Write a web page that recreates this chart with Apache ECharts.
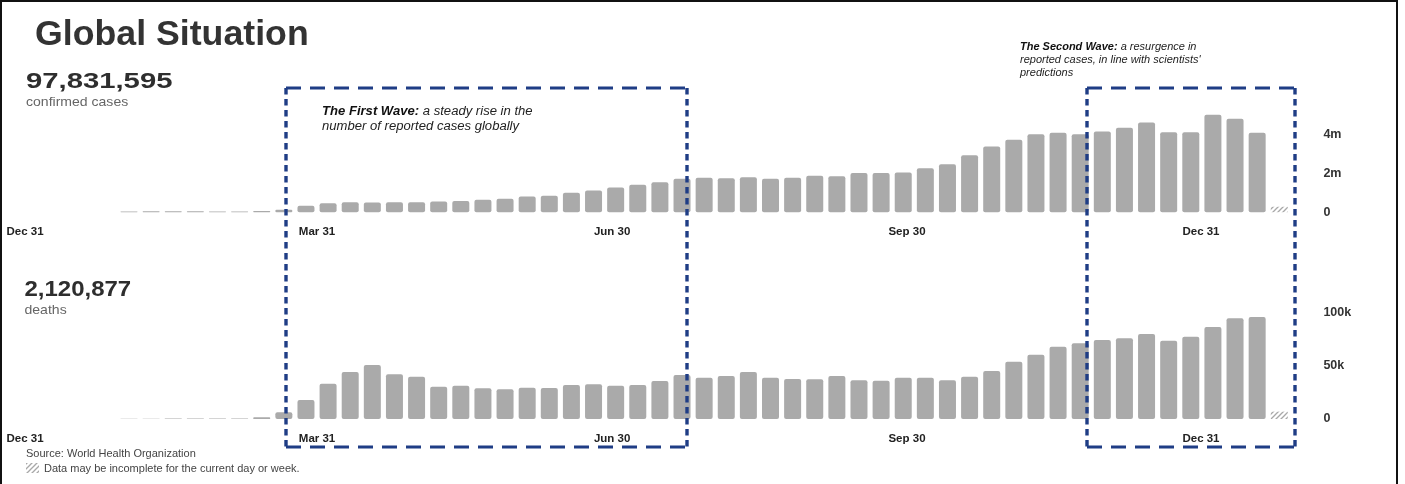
<!DOCTYPE html>
<html>
<head>
<meta charset="utf-8">
<style>
html,body{margin:0;padding:0;background:#fff;}
#c{width:1405px;height:484px;}
</style>
<script src="https://cdn.jsdelivr.net/npm/echarts@6/dist/echarts.min.js"></script>
</head>
<body>
<div id="c"></div>
<script>
// ---- data (weekly, index 0 = first reported week; last week incomplete) ----
const casesM = [0.04,0.05,0.05,0.05,0.04,0.04,0.06,0.12,
  0.33,0.46,0.51,0.50,0.51,0.51,0.55,0.57,0.64,0.69,0.81,0.84,1.00,1.12,1.27,1.41,1.54,1.72,
  1.77,1.75,1.80,1.72,1.77,1.87,1.85,2.01,2.02,2.04,2.26,2.47,2.93,3.38,3.72,4.01,4.08,4.01,
  4.15,4.34,4.61,4.11,4.11,5.01,4.80,4.08,0.28];
const deathsK = [0.3,0.3,0.4,0.4,0.4,0.5,1.6,6.3,
  17.8,33.1,44.1,50.7,41.9,39.7,30.3,31.3,28.8,27.8,29.4,29.1,31.9,32.5,31.3,31.9,35.6,41.3,
  38.8,40.3,44.1,38.8,37.5,37.2,40.3,36.3,35.9,38.8,38.8,36.3,39.7,45.0,53.8,60.3,67.8,71.0,
  74.1,75.7,79.7,73.5,77.2,86.3,94.5,95.7,6.9];
const tickPositions = [-4.7, 8.5, 21.84, 35.17, 48.46];   // in week-index units
const tickLabels = ['Dec 31','Mar 31','Jun 30','Sep 30','Dec 31'];
const casesAxis = {min:0, max:6, interval:2, unit:'m'};
const deathsAxis = {min:0, max:150, interval:50, unit:'k'};
const totalCases = '97,831,595';
const totalDeaths = '2,120,877';
const incompleteIndex = casesM.length - 1;

const FONT = '"Liberation Sans", Arial, Helvetica, sans-serif';
const BAR = '#aaaaaa';
const NAVY = '#1f3d85';

function hatchCanvas(){
  const c = document.createElement('canvas');
  c.width = 5; c.height = 5;
  const g = c.getContext('2d');
  g.strokeStyle = '#a8a8a8'; g.lineWidth = 1.3;
  g.beginPath();
  g.moveTo(0,5); g.lineTo(5,0);
  g.moveTo(-1,1); g.lineTo(1,-1);
  g.moveTo(4,6); g.lineTo(6,4);
  g.stroke();
  return c;
}
const hatch = {image: hatchCanvas(), repeat: 'repeat'};

function labelFor(v){
  let best = 0, d = Infinity;
  tickPositions.forEach((p,i)=>{ const dd = Math.abs(p-v); if(dd<d){d=dd;best=i;} });
  return tickLabels[best];
}

function xAxisCfg(gi){
  return {
    gridIndex: gi, type:'value', min:-5, max:53,
    axisLine:{show:false}, axisTick:{show:false}, splitLine:{show:false},
    axisLabel:{customValues: tickPositions, formatter: labelFor, margin:14,
      fontWeight:'bold', fontSize:11.5, color:'#222', fontFamily:FONT, hideOverlap:false}
  };
}
function yAxisCfg(gi, ax){
  return {
    gridIndex: gi, type:'value', position:'right', min:ax.min, max:ax.max, interval:ax.interval,
    axisLine:{show:false}, axisTick:{show:false}, splitLine:{show:false},
    axisLabel:{showMaxLabel:false, margin:22, fontWeight:'bold', fontSize:12.5, color:'#333', fontFamily:FONT,
      formatter: v => v === 0 ? '0' : v + ax.unit}
  };
}
function barData(arr){
  return arr.map((v,i)=> i === incompleteIndex
    ? {value:[i,v], itemStyle:{color:hatch, borderRadius:0}}
    : {value:[i,v]});
}

function hLine(x1,x2,y){ return {type:'line', shape:{x1:x1,y1:y,x2:x2,y2:y}, style:{stroke:NAVY, lineWidth:3, lineDash:[15,9]}, z:100}; }
function vLine(x,y1,y2){ return {type:'line', shape:{x1:x,y1:y1,x2:x,y2:y2}, style:{stroke:NAVY, lineWidth:3.4, lineDash:[6.5,4.5]}, z:100}; }

const chart = echarts.init(document.getElementById('c'), null, {renderer:'canvas'});
chart.setOption({
  animation:false,
  backgroundColor:'#fff',
  grid:[
    {left:18.4, right:103.6, top:95.5, height:116.7, outerBoundsMode:'none'},
    {left:18.4, right:103.6, top:259.1, height:159.9, outerBoundsMode:'none'}
  ],
  xAxis:[xAxisCfg(0), xAxisCfg(1)],
  yAxis:[yAxisCfg(0, casesAxis), yAxisCfg(1, deathsAxis)],
  series:[
    {type:'bar', xAxisIndex:0, yAxisIndex:0, barWidth:17, silent:true,
      itemStyle:{color:BAR, borderRadius:2}, data: barData(casesM)},
    {type:'bar', xAxisIndex:1, yAxisIndex:1, barWidth:17, silent:true,
      itemStyle:{color:BAR, borderRadius:2}, data: barData(deathsK)}
  ],
  graphic:[
    {type:'rect', shape:{x:1,y:1,width:1396,height:520}, style:{fill:'none', stroke:'#111', lineWidth:2}, z:200},
    {type:'text', x:35, y:35, scaleX:1.02, style:{text:'Global Situation', font:'bold 35px '+FONT, fill:'#333', verticalAlign:'middle', align:'left'}},
    {type:'text', x:26, y:81.5, scaleX:1.33, style:{text:totalCases, font:'bold 22px '+FONT, fill:'#2e2e2e', verticalAlign:'middle', align:'left'}},
    {type:'text', x:26, y:102, scaleX:1.08, style:{text:'confirmed cases', font:'13px '+FONT, fill:'#666', verticalAlign:'middle', align:'left'}},
    {type:'text', x:24.5, y:289.5, scaleX:1.09, style:{text:totalDeaths, font:'bold 22px '+FONT, fill:'#2e2e2e', verticalAlign:'middle', align:'left'}},
    {type:'text', x:24.5, y:310, scaleX:1.08, style:{text:'deaths', font:'13px '+FONT, fill:'#666', verticalAlign:'middle', align:'left'}},
    {type:'text', x:322, y:104, scaleX:1.09, style:{
      text:'{b|The First Wave:} a steady rise in the\nnumber of reported cases globally',
      fontSize:12, fontStyle:'italic', fontFamily:FONT, fill:'#222', lineHeight:15, verticalAlign:'top', align:'left',
      rich:{b:{fontWeight:'bold', fontStyle:'italic', fontSize:12, fontFamily:FONT, fill:'#111', lineHeight:15}}}},
    {type:'text', x:1020, y:40.5, scaleX:1.1, style:{
      text:'{b|The Second Wave:} a resurgence in\nreported cases, in line with scientists\'\npredictions',
      fontSize:10, fontStyle:'italic', fontFamily:FONT, fill:'#222', lineHeight:13, verticalAlign:'top', align:'left',
      rich:{b:{fontWeight:'bold', fontStyle:'italic', fontSize:10, fontFamily:FONT, fill:'#111', lineHeight:13}}}},
    hLine(286,688,88), hLine(286,688,447), vLine(286,88,447), vLine(687,88,447),
    hLine(1087,1296,88), hLine(1087,1296,447), vLine(1087,88,447), vLine(1295,88,447),
    {type:'text', x:26, y:454, style:{text:'Source: World Health Organization', font:'11px '+FONT, fill:'#444', verticalAlign:'middle', align:'left'}},
    {type:'rect', shape:{x:26,y:463,width:13,height:10}, style:{fill:hatch}},
    {type:'text', x:44, y:469, style:{text:'Data may be incomplete for the current day or week.', font:'11px '+FONT, fill:'#444', verticalAlign:'middle', align:'left'}}
  ]
});
</script>
</body>
</html>
